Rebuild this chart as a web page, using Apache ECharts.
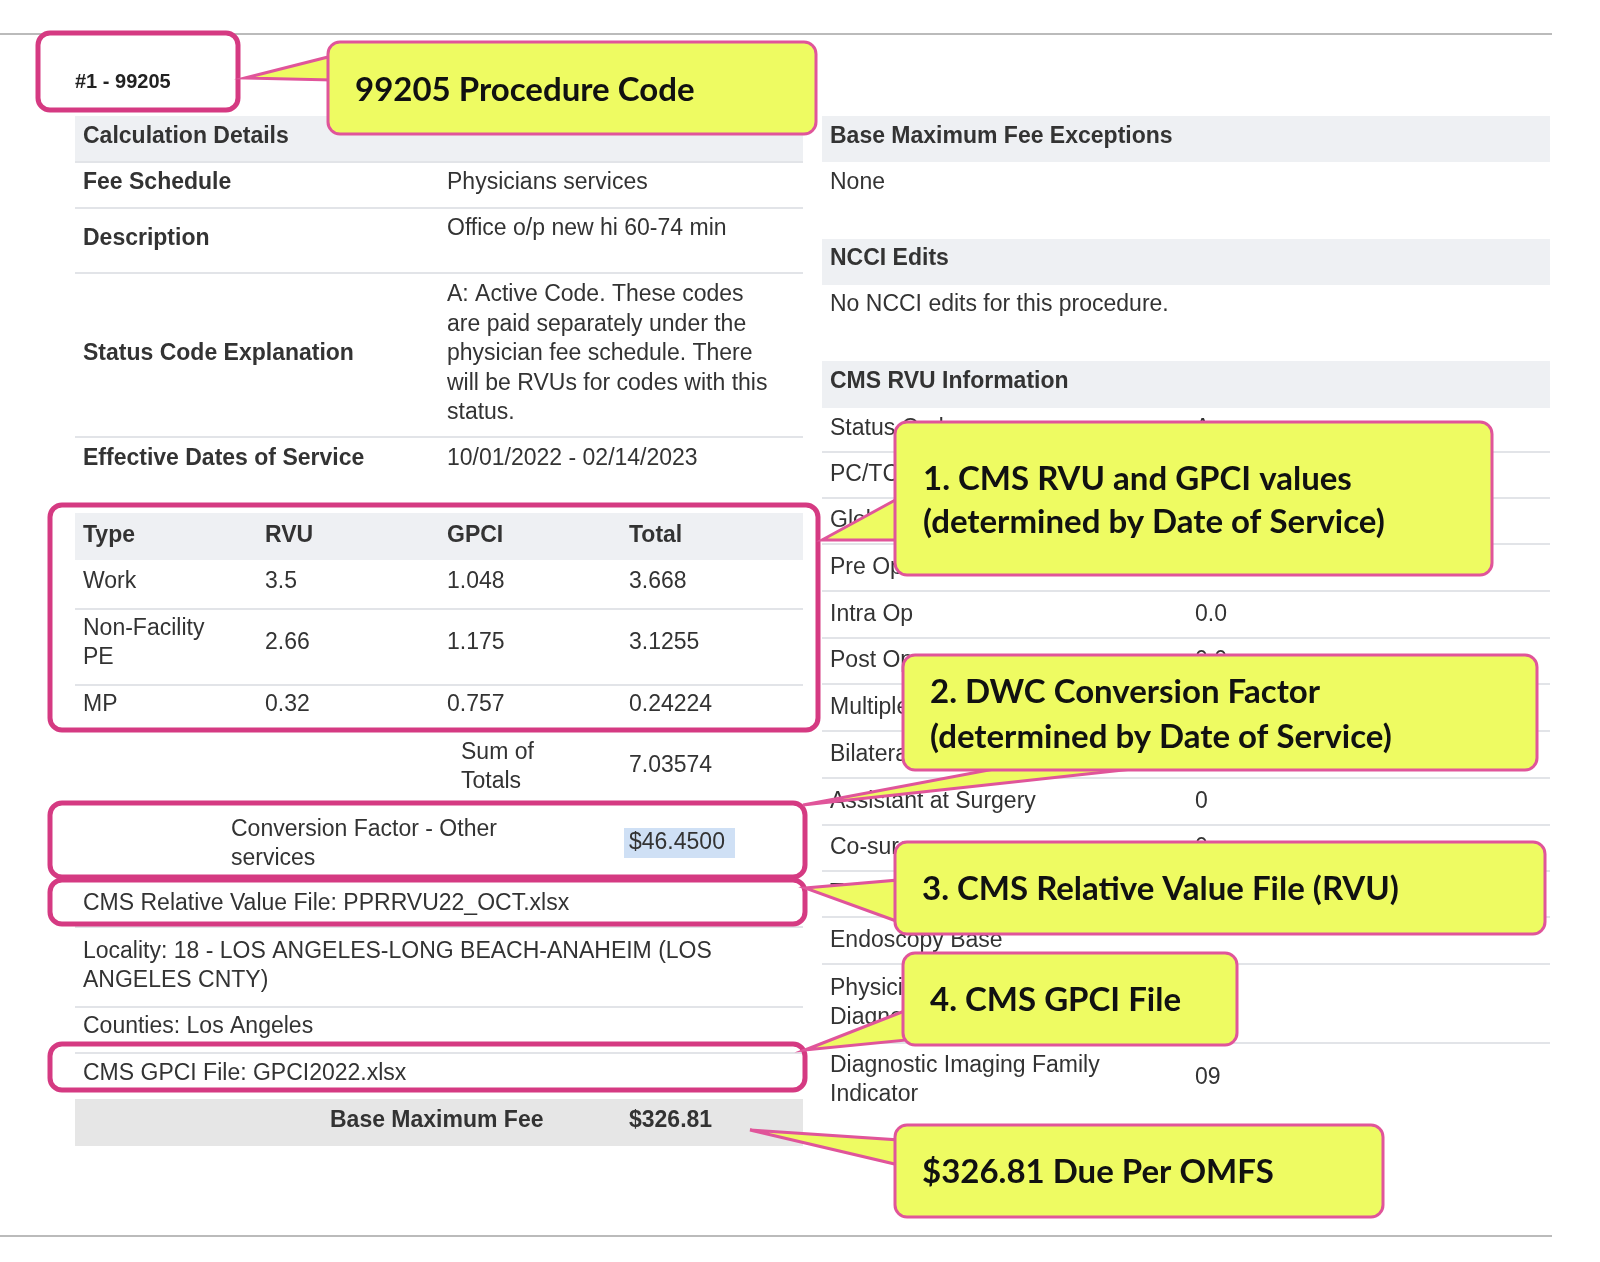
<!DOCTYPE html>
<html><head><meta charset="utf-8">
<script src="https://cdn.jsdelivr.net/npm/echarts@6/dist/echarts.min.js"></script>
<style>html,body{margin:0;background:#fff}#c{width:1600px;height:1262px}</style>
</head><body><div id="c"></div>
<script>
const procedure = '#1 - 99205';
const calcLabels = ['Fee Schedule','Description','Status Code Explanation','Effective Dates of Service'];
const calcValues = [['Physicians services'],['Office o/p new hi 60-74 min'],['A: Active Code. These codes','are paid separately under the','physician fee schedule. There','will be RVUs for codes with this','status.'],['10/01/2022 - 02/14/2023']];
const rvuHeader = ['Type','RVU','GPCI','Total'];
const rvuTypes = [['Work'],['Non-Facility','PE'],['MP']];
const rvuValues = ['3.5','2.66','0.32'];
const gpciValues = ['1.048','1.175','0.757'];
const totalValues = ['3.668','3.1255','0.24224'];
const sumOfTotals = '7.03574';
const conversionFactor = '$46.4500';
const infoLines = [['CMS Relative Value File: PPRRVU22_OCT.xlsx'],['Locality: 18 - LOS ANGELES-LONG BEACH-ANAHEIM (LOS','ANGELES CNTY)'],['Counties: Los Angeles'],['CMS GPCI File: GPCI2022.xlsx']];
const baseFee = '$326.81';
const rvuInfoLabels = [['Status Code'],['PC/TC'],['Global'],['Pre Op'],['Intra Op'],['Post Op'],['Multiple'],['Bilateral'],['Assistant at Surgery'],['Co-surgeons'],['Team'],['Endoscopy Base'],['Physician Supervision of','Diagnostic'],['Diagnostic Imaging Family','Indicator']];
const rvuInfoValues = ['A','0','090','0.0','0.0','0.0','0','0','0','0','0','','09','09'];
const callouts = ['99205 Procedure Code',['1. CMS RVU and GPCI values','(determined by Date of Service)'],['2. DWC Conversion Factor','(determined by Date of Service)'],'3. CMS Relative Value File (RVU)','4. CMS GPCI File','$326.81 Due Per OMFS'];

const F='Liberation Sans, Arial, sans-serif', TC='#333', G=[];
const txt=(x,y,s,o={})=>G.push({type:'text',x,y,z:o.z||5,style:Object.assign({text:s,font:(o.b?'bold ':'')+(o.fs||23)+'px '+F,fill:TC,verticalAlign:'middle'},o.st||{})});
const rect=(x,y,w,h,fill,z=1)=>G.push({type:'rect',shape:{x,y,width:w,height:h},z,style:{fill}});
const hl=(x1,x2,y)=>G.push({type:'line',shape:{x1,y1:y,x2,y2:y},z:2,style:{stroke:'#e2e4e8',lineWidth:2}});
const lines=(x,yc,arr,o)=>{const n=arr.length;arr.forEach((s,i)=>txt(x,yc+(i-(n-1)/2)*29.5,s,o));};
// frame lines
G.push({type:'line',shape:{x1:0,y1:34,x2:1552,y2:34},style:{stroke:'#bbb',lineWidth:2}});
G.push({type:'line',shape:{x1:0,y1:1236,x2:1552,y2:1236},style:{stroke:'#bbb',lineWidth:2}});
// left table
const BG='#eef0f3';
rect(75,116,728,46,BG); txt(83,137,'Calculation Details',{b:1});
const cy=[183,239,354,459], cl=[208,273,437];
calcLabels.forEach((l,i)=>txt(83,cy[i],l,{b:1}));
lines(447,183,calcValues[0]);txt(447,229,calcValues[1][0]);lines(447,354,calcValues[2]);lines(447,459,calcValues[3]);
cl.forEach(y=>hl(75,803,y));hl(75,803,162);
rect(75,513,728,47,BG);
[83,265,447,629].forEach((x,i)=>txt(x,536,rvuHeader[i],{b:1}));
const ry=[582,643,705];
rvuTypes.forEach((t,i)=>{lines(83,ry[i],t);txt(265,ry[i],rvuValues[i]);txt(447,ry[i],gpciValues[i]);txt(629,ry[i],totalValues[i]);});
[609,685].forEach(y=>hl(75,803,y));
lines(461,767,['Sum of','Totals']);txt(629,766,sumOfTotals);
lines(231,844,['Conversion Factor - Other','services']);
rect(624,828,111,30,'#cfe0f5');txt(629,843,conversionFactor);
const iy=[904,966,1027,1074];
infoLines.forEach((l,i)=>lines(83,iy[i],l));
[927,1007,1053].forEach(y=>hl(75,803,y));
rect(75,1099,728,47,'#e6e6e6');
txt(330,1121,'Base Maximum Fee',{b:1});txt(629,1121,baseFee,{b:1});
// right table
rect(822,116,728,46,BG);txt(830,137,'Base Maximum Fee Exceptions',{b:1});txt(830,183,'None');
rect(822,239,728,46,BG);txt(830,259,'NCCI Edits',{b:1});txt(830,305,'No NCCI edits for this procedure.');
rect(822,361,728,47,BG);txt(830,382,'CMS RVU Information',{b:1});
const rry=[429,475,521,568,615,661,708,755,802,848,894,941,1003,1080];
rvuInfoLabels.forEach((l,i)=>{lines(830,rry[i],l);if(rvuInfoValues[i])txt(1195,i==13?1078:rry[i],rvuInfoValues[i]);
 const yb=i<13?(i<12?rry[i]+23:1043):null; if(yb)hl(822,1550,yb);});
// magenta boxes
const mb=(x,y,w,h)=>G.push({type:'rect',z:20,shape:{x,y,width:w,height:h,r:12},style:{fill:null,stroke:'#d53a82',lineWidth:5}});
mb(38,33,200,77);txt(75,82,procedure,{b:1,fs:20,z:21,st:{fill:'#222'}});
mb(50,505,768,225);mb(50,803,755,74);mb(50,880,755,44);mb(50,1044,755,46);
// callouts
const CF='bold 33px Lato, "Open Sans", sans-serif';
const co=(x,y,w,h,tri,text,tx,tys)=>{
 G.push({type:'polygon',z:30,shape:{points:tri},style:{fill:'#eefb62',stroke:'#e0559a',lineWidth:3}});
 G.push({type:'rect',z:31,shape:{x,y,width:w,height:h,r:12},style:{fill:'#eefb62',stroke:'#e0559a',lineWidth:3}});
 (Array.isArray(text)?text:[text]).forEach((s,i)=>G.push({type:'text',z:32,x:tx,y:tys[i],style:{text:s,font:CF,fill:'#111',verticalAlign:'middle'}}));
};
co(328,42,488,92,[[245,78],[332,56],[332,80]],callouts[0],355,[90]);
co(895,422,597,153,[[822,540],[899,498],[899,540]],callouts[1],923,[479,522]);
co(903,655,634,115,[[803,805],[1010,766],[1160,766]],callouts[2],930,[692,737]);
co(895,842,650,92,[[805,888],[899,880],[899,922]],callouts[3],922,[889]);
co(903,953,334,92,[[805,1050],[907,1010],[907,1040]],callouts[4],930,[1000]);
co(895,1125,488,92,[[750,1130],[899,1140],[899,1165]],callouts[5],922,[1172]);
const chart=echarts.init(document.getElementById('c'));
chart.setOption({animation:false,graphic:G});
</script></body></html>
